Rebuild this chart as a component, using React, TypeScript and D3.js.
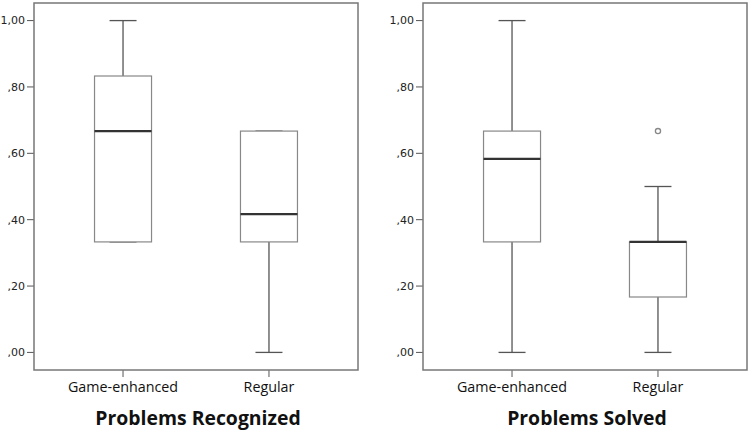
import React from "react";
import * as d3 from "d3";

// values (SPSS boxplots)
const categories = ["Game-enhanced", "Regular"];
const yTicks = [0, 0.2, 0.4, 0.6, 0.8, 1.0];
const titles = ["Problems Recognized", "Problems Solved"];

const recognizedStats = [
  { min: 0.333, q1: 0.333, median: 0.667, q3: 0.833, max: 1.0, outliers: [] as number[] },
  { min: 0.0, q1: 0.333, median: 0.417, q3: 0.667, max: 0.667, outliers: [] as number[] },
];
const solvedStats = [
  { min: 0.0, q1: 0.333, median: 0.583, q3: 0.667, max: 1.0, outliers: [] as number[] },
  { min: 0.0, q1: 0.167, median: 0.333, q3: 0.333, max: 0.5, outliers: [0.667] },
];

const W = 750;
const H = 432;

type Stat = typeof recognizedStats[number];

const fmt = (v: number) => d3.format(".2f")(v).replace(/^0/, "").replace(".", ",");

const Panel = ({ stats, title, left }: { stats: Stat[]; title: string; left: number }) => {
  const frameW = 324;
  const top = 3;
  const bottom = 370;

  const y = d3.scaleLinear().domain([-0.053, 1.053]).range([bottom, top]);
  const x = d3.scalePoint<string>().domain(categories).range([left, left + frameW]).padding(0.61);
  const boxW = 57;
  const capW = 27;

  return (
    <g>
      {/* y ticks */}
      {yTicks.map((t) => (
        <g key={t} transform={`translate(0,${y(t)})`}>
          <line x1={left - 7} x2={left} stroke="#555" strokeWidth={1} />
          <text
            x={left - 9}
            dy="0.35em"
            textAnchor="end"
            fontFamily="DejaVu Sans"
            fontSize={11}
            fill="#222"
          >
            {fmt(t)}
          </text>
        </g>
      ))}
      {/* x ticks */}
      {categories.map((c) => (
        <g key={c} transform={`translate(${x(c)},0)`}>
          <line y1={bottom} y2={bottom + 7} stroke="#555" />
          <text y={392} textAnchor="middle" fontFamily="Open Sans" fontSize={14.3} fill="#111">
            {c}
          </text>
        </g>
      ))}
      {/* boxes */}
      {stats.map((s, i) => {
        const cx = x(categories[i]) as number;
        return (
          <g key={i}>
            <line x1={cx} x2={cx} y1={y(s.max)} y2={y(s.q3)} stroke="#555" strokeWidth={1.3} />
            <line x1={cx} x2={cx} y1={y(s.q1)} y2={y(s.min)} stroke="#555" strokeWidth={1.3} />
            <line x1={cx - capW / 2} x2={cx + capW / 2} y1={y(s.max)} y2={y(s.max)} stroke="#555" strokeWidth={1.3} />
            <line x1={cx - capW / 2} x2={cx + capW / 2} y1={y(s.min)} y2={y(s.min)} stroke="#555" strokeWidth={1.3} />
            <rect
              x={cx - boxW / 2}
              y={y(s.q3)}
              width={boxW}
              height={y(s.q1) - y(s.q3)}
              fill="#fff"
              stroke="#888"
              strokeWidth={1.2}
            />
            <line
              x1={cx - boxW / 2}
              x2={cx + boxW / 2}
              y1={y(s.median)}
              y2={y(s.median)}
              stroke="#333"
              strokeWidth={2.2}
            />
            {s.outliers.map((o, j) => (
              <circle key={j} cx={cx} cy={y(o)} r={2.6} fill="#fff" stroke="#888" strokeWidth={1.3} />
            ))}
          </g>
        );
      })}
      {/* frame */}
      <rect x={left} y={top} width={frameW} height={bottom - top} fill="none" stroke="#777" strokeWidth={1.5} />
      <text
        x={left + frameW / 2 + 2}
        y={425}
        textAnchor="middle"
        fontFamily="Open Sans"
        fontWeight="bold"
        fontSize={19.4}
        fill="#111"
      >
        {title}
      </text>
    </g>
  );
};

export default function App() {
  return (
    <svg width={W} height={H} style={{ position: "absolute", left: 0, top: 0, background: "#fff" }}>
      <Panel stats={recognizedStats} title={titles[0]} left={34} />
      <Panel stats={solvedStats} title={titles[1]} left={423} />
    </svg>
  );
}
